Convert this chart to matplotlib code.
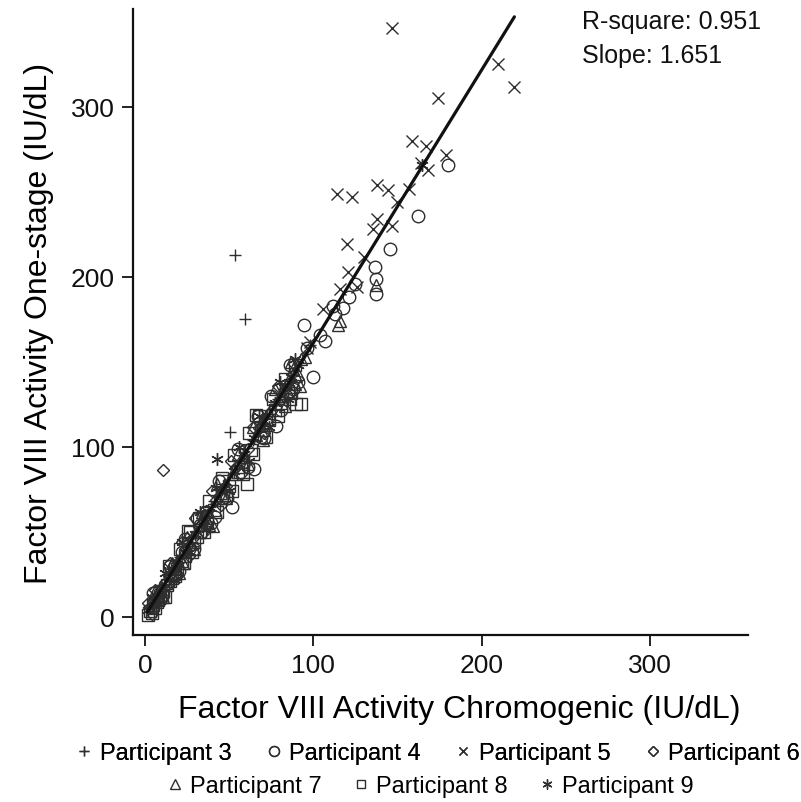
import matplotlib
matplotlib.use("Agg")
import matplotlib.pyplot as plt
from matplotlib.lines import Line2D

plt.rcParams['font.family'] = ['Liberation Sans', 'DejaVu Sans']

# ---- data ----
x3 = [53.5, 59.4, 50.5, 4, 9, 15, 21, 28, 34, 41, 47, 57, 64, 72, 79, 86, 98]
y3 = [213, 175, 109, 7, 14, 25, 35, 44, 57, 68, 78, 92, 104, 118, 128, 139, 160]

x4 = [94.5, 111.7, 117.6, 107, 99.8, 136.7, 137, 137, 145.6, 162, 180, 78, 65, 51.5,
      41.6, 104, 121, 113, 88, 72, 58, 33, 26, 18, 12, 7, 84, 125, 46, 36, 22, 69,
      5, 9, 15, 20, 24, 29, 31, 39, 44, 49, 55, 61, 67, 71, 75, 81, 86, 91, 96]
y4 = [172, 183, 182, 162.5, 141, 206, 199, 190, 216.5, 236, 266, 112.5, 87, 64.7,
      58.8, 166, 188, 178, 134, 114, 91, 54, 40, 30, 19, 11, 130, 196, 70, 62, 38, 106,
      14, 10, 30, 27, 46, 40, 58, 55, 80, 70, 99, 88, 118, 105, 130, 122, 148, 138, 158]

x5 = [146.8, 209.6, 219.5, 174, 158.6, 167, 179, 157, 164, 168, 114, 122.8, 137.7, 144.4,
      137.7, 146.6, 135.5, 119.8, 120.6, 125.8, 115.9, 105.8, 98, 96, 88, 79, 70, 150, 130]
y5 = [346.5, 325, 312, 305, 280, 277, 272, 252, 267, 263, 249, 247, 254, 251,
      234, 230, 228, 219.4, 203, 194, 193, 181, 162, 158, 146, 130, 115, 244, 212]

x6 = [10.7, 3, 5, 7, 9, 12, 14, 17, 20, 24, 28, 32, 37, 42, 48, 54, 61, 68, 75, 83,
      2, 4, 6, 11, 15, 19, 22, 26, 30, 35, 40, 45, 51, 57, 64, 71, 79, 86]
y6 = [86.5, 6, 9, 12, 16, 20, 24, 28, 33, 40, 46, 53, 60, 69, 77, 88, 99, 111, 121, 134,
      8, 2, 16, 12, 32, 24, 44, 36, 58, 50, 74, 66, 92, 84, 112, 108, 136, 132]

x7 = [114.7, 116, 90, 92, 91, 137, 40.5, 22.6, 4, 8, 13, 18, 27, 31, 36, 45, 52, 58, 66,
      74, 80, 85, 88, 95, 6, 11, 16, 20, 25, 29, 34, 38, 43, 48, 55, 61, 64, 70, 77, 83,
      87, 89, 93]
y7 = [172, 174, 142, 136, 143, 195, 53.7, 32, 6, 12, 20, 29, 43, 50, 58, 73, 84, 94, 107,
      120, 130, 139, 146, 153, 15, 12, 32, 26, 47, 40, 62, 54, 78, 70, 96, 90, 112, 104, 134,
      124, 150, 137, 152]

x8 = [3, 4, 5, 6, 8, 9, 11, 13, 15, 17, 19, 22, 25.6, 29, 33, 37, 41, 45.6, 50, 55,
      60.4, 63, 66, 70, 74, 77, 81, 85, 90, 93, 2, 7, 10, 16, 24, 31, 48, 57, 86,
      12, 14, 18, 21, 23, 27, 28, 32, 35, 38, 43, 46, 52, 53, 58, 62, 64, 68, 72, 76,
      79, 83, 87, 89]
y8 = [3.7, 2.5, 7, 5, 10, 12, 15, 19, 21, 25, 28, 33, 50.8, 44, 50, 56, 63, 80, 77, 85,
      78, 98, 119, 110, 116, 122, 126, 133, 125, 125, 1, 9, 13, 23, 36, 47, 72, 88, 128,
      12, 30, 24, 40, 32, 50, 38, 58, 50, 68, 62, 82, 74, 95, 84, 108, 96, 118, 106, 128,
      118, 140, 132, 148]

x9 = [42.6, 164.6, 2, 6, 10, 14, 19, 24, 30, 35, 39, 46, 53, 59, 65, 71, 77, 83, 87, 91,
      4, 8, 12, 17, 22, 27, 33, 37, 42, 50, 56, 62, 68, 74, 80, 85, 89]
y9 = [93, 266, 4, 10, 17, 22, 31, 38, 49, 57, 64, 75, 86, 96, 105, 115, 126, 136, 141, 148,
      12, 8, 26, 22, 44, 38, 62, 52, 76, 74, 100, 92, 118, 112, 138, 128, 152]

fit_x = [1.5, 219.5]
fit_y = [3.0, 353.0]

r_square = 0.951
slope = 1.651

x_ticks = [0, 100, 200, 300]
y_ticks = [0, 100, 200, 300]

series = [
    ("Participant 3", x3, y3, '+', 9),
    ("Participant 4", x4, y4, 'o', 9),
    ("Participant 5", x5, y5, 'x', 8),
    ("Participant 6", x6, y6, 'D', 6),
    ("Participant 7", x7, y7, '^', 9),
    ("Participant 8", x8, y8, 's', 8),
    ("Participant 9", x9, y9, (6, 2, 0), 9),
]

W, H = 801, 803
fig = plt.figure(figsize=(W / 100, H / 100), dpi=100)
ax = fig.add_axes([133 / W, 1 - 636 / H, (748 - 133) / W, (636 - 10) / H])

ink = '#2e2e2e'
handles = []
for name, xs, ys, mk, ms in series:
    ax.plot(xs, ys, linestyle='none', marker=mk, markersize=ms,
            markerfacecolor='none', markeredgecolor=ink, markeredgewidth=1.0)
    handles.append(Line2D([], [], linestyle='none', marker=mk, markersize=ms * 0.8,
                          markerfacecolor='none', markeredgecolor=ink,
                          markeredgewidth=1.0, label=name))

ax.plot(fit_x, fit_y, color='#111111', linewidth=2.3, solid_capstyle='round')

ax.set_xlim(-7.1, 358.3)
ax.set_ylim(-10.6, 357.6)
ax.set_xticks(x_ticks)
ax.set_yticks(y_ticks)
for s in ['top', 'right']:
    ax.spines[s].set_visible(False)
for s in ['left', 'bottom']:
    ax.spines[s].set_linewidth(1.6)
    ax.spines[s].set_color('#111111')
ax.tick_params(axis='both', direction='out', length=8, width=1.3, labelsize=19,
               colors='#111111', pad=5)

ax.set_xlabel("Factor VIII Activity Chromogenic (IU/dL)", fontsize=23, labelpad=8)
ax.xaxis.set_label_coords((459 - 133) / (748 - 133), -0.095)
ax.set_ylabel("Factor VIII Activity One-stage (IU/dL)", fontsize=23, labelpad=12)

fig.text(582 / W, 1 - 22 / H, f"R-square: {r_square:.3f}", fontsize=18,
         ha='left', va='center', color='#111111')
fig.text(582 / W, 1 - 56 / H, f"Slope: {slope:.3f}", fontsize=18,
         ha='left', va='center', color='#111111')

leg1 = fig.legend(handles=handles[:4], loc='center', bbox_to_anchor=(438 / W, 1 - 754 / H),
                  ncol=4, frameon=False, fontsize=17, handlelength=0.7,
                  handletextpad=0.3, columnspacing=1.45, borderpad=0, borderaxespad=0)
fig.add_artist(leg1)
leg2 = fig.legend(handles=handles[4:], loc='center', bbox_to_anchor=(430 / W, 1 - 787 / H),
                  ncol=3, frameon=False, fontsize=17, handlelength=0.7,
                  handletextpad=0.3, columnspacing=1.3, borderpad=0, borderaxespad=0)

fig.savefig("out.png", dpi=100)
